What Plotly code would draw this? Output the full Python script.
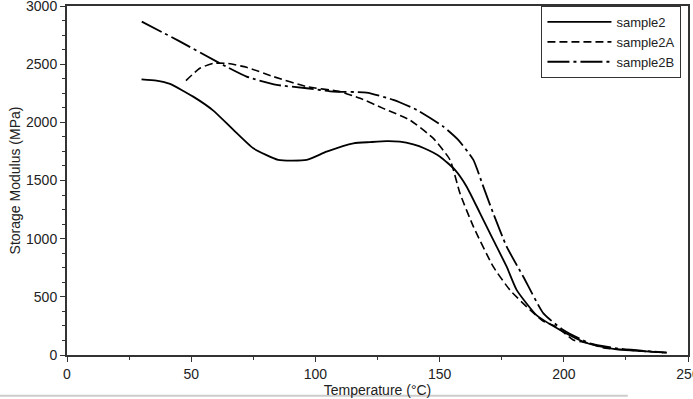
import plotly.graph_objects as go

# sample2 (solid)
t_s2 = [30, 36, 41.5, 50.8, 58.9, 67, 75, 85, 96.5, 104.5, 115.3, 122, 128.7, 134, 139.4, 144, 150.2, 156.2, 160.9, 166.3, 171.6, 177, 181, 189.1, 198.5, 207.9, 211.9, 221.3, 228, 241.4]
e_s2 = [2370, 2359, 2330, 2221, 2101, 1935, 1777, 1677, 1677, 1748, 1820, 1830, 1838, 1834, 1810, 1775, 1705, 1591, 1447, 1218, 989, 759, 560, 340, 215, 114, 86, 49, 38, 20]

# sample2A (dashed)
t_s2a = [47.9, 53.5, 58.9, 64.3, 72.3, 83.1, 96.5, 109.9, 118, 127.3, 138, 147.5, 154.2, 158.2, 163.6, 171.6, 178.3, 186.4, 191.8, 197.1, 203.8, 210.5, 215.8, 228, 240]
e_s2a = [2359, 2465, 2507, 2507, 2473, 2393, 2307, 2264, 2207, 2120, 2020, 1862, 1677, 1390, 1104, 759, 559, 387, 290, 243, 129, 100, 62, 40, 20]

# sample2B (dash-dot)
t_s2b = [30.1, 45, 61.6, 72.3, 84.4, 96.5, 107.2, 120.6, 131.4, 140.8, 151.5, 157.5, 163.6, 167.6, 171.6, 177, 183.7, 191.8, 199.8, 210.5, 221.3, 241.4]
e_s2b = [2866, 2700, 2507, 2393, 2322, 2293, 2264, 2256, 2193, 2107, 1963, 1849, 1677, 1447, 1218, 931, 673, 358, 215, 100, 57, 20]

series_names = ["sample2", "sample2A", "sample2B"]

fig = go.Figure()
fig.add_trace(go.Scatter(x=t_s2, y=e_s2, mode="lines", name=series_names[0],
                         line=dict(color="black", width=1.8, dash="solid",
                                   shape="spline", smoothing=0.5)))
fig.add_trace(go.Scatter(x=t_s2a, y=e_s2a, mode="lines", name=series_names[1],
                         line=dict(color="black", width=1.6, dash="8px,4px",
                                   shape="spline", smoothing=0.5)))
fig.add_trace(go.Scatter(x=t_s2b, y=e_s2b, mode="lines", name=series_names[2],
                         line=dict(color="black", width=1.8, dash="22px,4px,3px,4px",
                                   shape="spline", smoothing=0.5)))

font = "Liberation Sans, Arial, sans-serif"
fig.update_layout(
    width=693, height=399,
    margin=dict(l=67, r=5, t=6, b=44, autoexpand=False),
    paper_bgcolor="white", plot_bgcolor="white",
    font=dict(family=font, size=14, color="#222"),
    showlegend=True,
    legend=dict(x=0.764, y=1, xanchor="left", yanchor="top",
                bordercolor="#333", borderwidth=1, bgcolor="white",
                font=dict(size=13, color="#222"), itemwidth=64,
                tracegroupgap=0),
    shapes=[dict(type="line", xref="paper", yref="paper",
                 x0=-0.108, x1=0.903, y0=-0.117, y1=-0.117,
                 line=dict(color="#cccccc", width=2))],
)
fig.update_xaxes(
    range=[0, 250], tickvals=[0, 50, 100, 150, 200, 250],
    ticks="outside", ticklen=5, tickwidth=1, tickcolor="#333",
    minor=dict(dtick=25, ticks="outside", ticklen=3, tickcolor="#333"),
    showline=True, linecolor="#333", linewidth=2, mirror=True,
    showgrid=False, zeroline=False, automargin=False,
    ticklabeloverflow="allow",
    title=dict(text="Temperature (°C)", font=dict(size=14), standoff=0),
    tickfont=dict(size=14),
)
fig.update_yaxes(
    range=[0, 3000], tickvals=[0, 500, 1000, 1500, 2000, 2500, 3000],
    ticks="outside", ticklen=5, tickwidth=1, tickcolor="#333",
    minor=dict(dtick=125, ticks="outside", ticklen=3, tickcolor="#333"),
    showline=True, linecolor="#333", linewidth=2, mirror=True,
    showgrid=False, zeroline=False, automargin=False,
    ticklabeloverflow="allow",
    title=dict(text="Storage Modulus (MPa)", font=dict(size=14), standoff=2),
    tickfont=dict(size=14),
)

fig.write_html("out.html", config={"displayModeBar": False},
               post_script="document.body.style.margin='0';document.body.style.padding='0';")
